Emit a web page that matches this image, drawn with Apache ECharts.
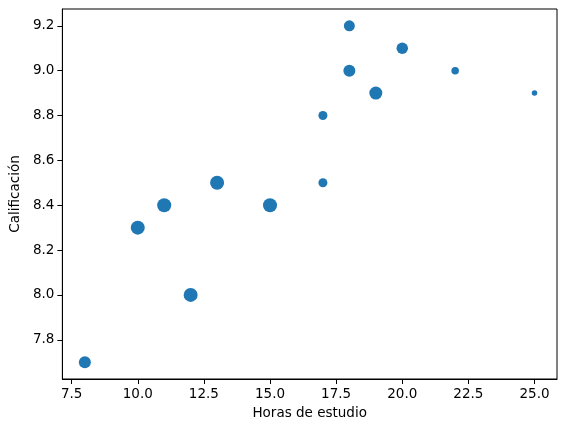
<!DOCTYPE html>
<html>
<head>
<meta charset="utf-8">
<script src="https://cdn.jsdelivr.net/npm/echarts@6/dist/echarts.min.js"></script>
<style>
html,body{margin:0;padding:0;background:#fff;}
#chart{width:567px;height:432px;}
</style>
</head>
<body>
<div id="chart"></div>
<script>
const horas = [8, 10, 11, 12, 13, 15, 17, 17, 18, 18, 19, 20, 22, 25];
const calificacion = [7.7, 8.3, 8.4, 8.0, 8.5, 8.4, 8.8, 8.5, 9.2, 9.0, 8.9, 9.1, 9.0, 8.9];
const tamano = [12, 14, 14, 14, 14, 14, 9, 9, 11, 12, 13, 11.5, 7.5, 5.5];
const xTicks = [7.5, 10.0, 12.5, 15.0, 17.5, 20.0, 22.5, 25.0];
const yTicks = [7.8, 8.0, 8.2, 8.4, 8.6, 8.8, 9.0, 9.2];

const points = horas.map((h, i) => [h, calificacion[i], tamano[i]]);
const font = 'DejaVu Sans';
const chart = echarts.init(document.getElementById('chart'), null, {renderer: 'canvas'});
chart.setOption({
  animation: false,
  backgroundColor: '#fff',
  grid: {left: 62, right: 10, top: 9, bottom: 53, show: true, borderColor: '#000', borderWidth: 1, backgroundColor: 'transparent'},
  xAxis: {
    type: 'value', min: 7.15, max: 25.85,
    name: 'Horas de estudio', nameLocation: 'middle', nameGap: 27,
    nameTextStyle: {fontFamily: font, fontSize: 13.5, color: '#000'},
    splitLine: {show: false},
    axisLine: {show: true, lineStyle: {color: '#000', width: 1}},
    axisTick: {show: true, inside: false, length: 5, lineStyle: {color: '#000'}, customValues: xTicks},
    axisLabel: {fontFamily: font, fontSize: 13.5, color: '#000', margin: 8, customValues: xTicks,
      formatter: v => Number(v).toFixed(1)}
  },
  yAxis: {
    type: 'value', min: 7.625, max: 9.275,
    name: 'Calificación', nameLocation: 'middle', nameGap: 38,
    nameTextStyle: {fontFamily: font, fontSize: 13.5, color: '#000'},
    splitLine: {show: false},
    axisLine: {show: true, lineStyle: {color: '#000', width: 1}},
    axisTick: {show: true, inside: false, length: 5, lineStyle: {color: '#000'}, customValues: yTicks},
    axisLabel: {fontFamily: font, fontSize: 13.5, color: '#000', margin: 8, customValues: yTicks,
      formatter: v => Number(v).toFixed(1)}
  },
  series: [{
    type: 'scatter',
    data: points,
    symbol: 'circle',
    symbolSize: d => d[2],
    itemStyle: {color: '#1f77b4', opacity: 1}
  }]
});
</script>
</body>
</html>
